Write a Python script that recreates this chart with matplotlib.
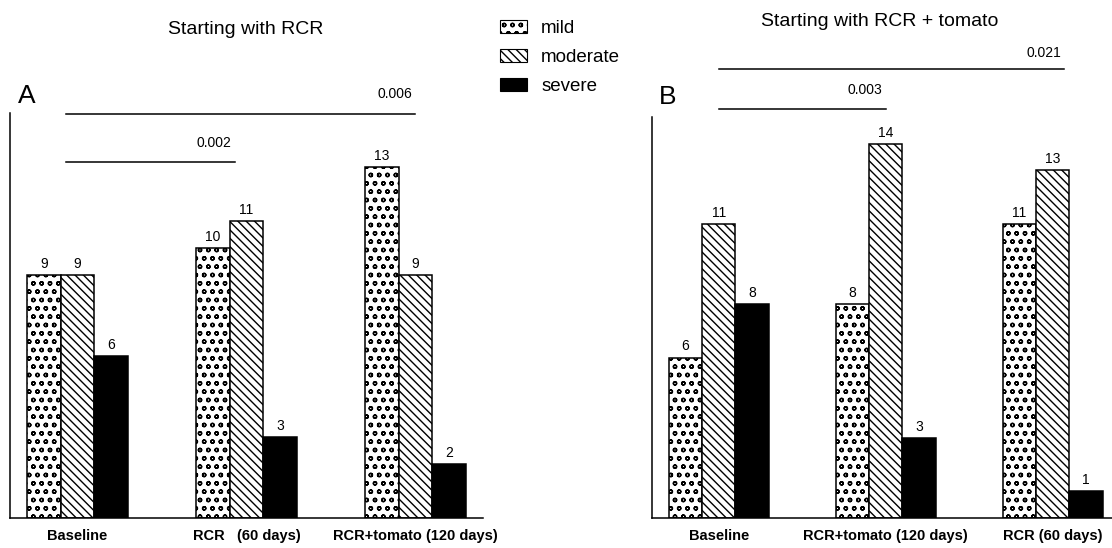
import matplotlib

matplotlib.use("Agg")

import matplotlib.pyplot as plt
import numpy as np
from matplotlib.patches import Patch

plt.rcParams["font.family"] = ["Liberation Sans", "DejaVu Sans"]
plt.rcParams["hatch.linewidth"] = 1.0

severity = ["mild", "moderate", "severe"]
hatches = ["oo", "\\\\\\\\", ""]
faces = ["white", "white", "black"]

groups_a = ["Baseline", "RCR   (60 days)", "RCR+tomato (120 days)"]
mild_a = [9, 10, 13]
moderate_a = [9, 11, 9]
severe_a = [6, 3, 2]

groups_b = ["Baseline", "RCR+tomato (120 days)", "RCR (60 days)"]
mild_b = [6, 8, 11]
moderate_b = [11, 14, 13]
severe_b = [8, 3, 1]

# significance brackets: (label, x start, x end, line y, label y)
sig_a = [("0.006", -0.07, 2.0, 14.96, 15.7), ("0.002", -0.07, 0.93, 13.19, 13.9)]
sig_b = [("0.021", 0.0, 2.07, 16.8, 17.4), ("0.003", 0.0, 1.0, 15.3, 16.0)]

BAR_W = 0.2


def draw_panel(ax, groups, series, sig, xlim):
    x = np.arange(len(groups))
    for i, vals in enumerate(series):
        bars = ax.bar(
            x + (i - 1) * BAR_W,
            vals,
            width=BAR_W,
            color=faces[i],
            edgecolor="black",
            hatch=hatches[i],
            linewidth=1.1,
        )
        ax.bar_label(bars, padding=3, fontsize=10)
    for label, x0, x1, y_line, y_text in sig:
        ax.plot([x0, x1], [y_line, y_line], color="black", lw=1.1, clip_on=False)
        ax.text(x1 - 0.02, y_text, label, ha="right", va="center", fontsize=10,
                clip_on=False)
    ax.set_xlim(*xlim)
    ax.set_ylim(0, 15)
    ax.set_yticks([])
    ax.set_xticks(x, labels=groups, fontweight="bold", fontsize=10.5)
    ax.tick_params(axis="x", length=0, pad=8)
    for side in ("top", "right"):
        ax.spines[side].set_visible(False)
    for side in ("left", "bottom"):
        ax.spines[side].set_linewidth(1.1)
    return ax


fig = plt.figure(figsize=(11.12, 5.48), dpi=100)
ax_a = fig.add_axes([10 / 1112, 30 / 548, 473 / 1112, 405 / 548])
ax_b = fig.add_axes([652 / 1112, 30 / 548, 460 / 1112, 401 / 548])

draw_panel(ax_a, groups_a, [mild_a, moderate_a, severe_a], sig_a, (-0.4, 2.4))
draw_panel(ax_b, groups_b, [mild_b, moderate_b, severe_b], sig_b, (-0.4, 2.355))

fig.text(246 / 1112, 1 - 29 / 548, "Starting with RCR", ha="center", va="center",
         fontsize=14)
fig.text(880 / 1112, 1 - 22 / 548, "Starting with RCR + tomato", ha="center",
         va="center", fontsize=14)
fig.text(27 / 1112, 1 - 96 / 548, "A", ha="center", va="center", fontsize=19)
fig.text(668 / 1112, 1 - 97 / 548, "B", ha="center", va="center", fontsize=19)

handles = [
    Patch(facecolor=faces[i], edgecolor="black", hatch=hatches[i], linewidth=0.8)
    for i in range(3)
]
fig.legend(
    handles,
    severity,
    loc="upper left",
    bbox_to_anchor=(500 / 1112, 1 - 20 / 548),
    frameon=False,
    fontsize=13.5,
    handlelength=1.45,
    handleheight=0.7,
    handletextpad=0.75,
    labelspacing=0.62,
    borderpad=0,
    borderaxespad=0,
)

fig.savefig("out.png", dpi=100)
plt.close(fig)
